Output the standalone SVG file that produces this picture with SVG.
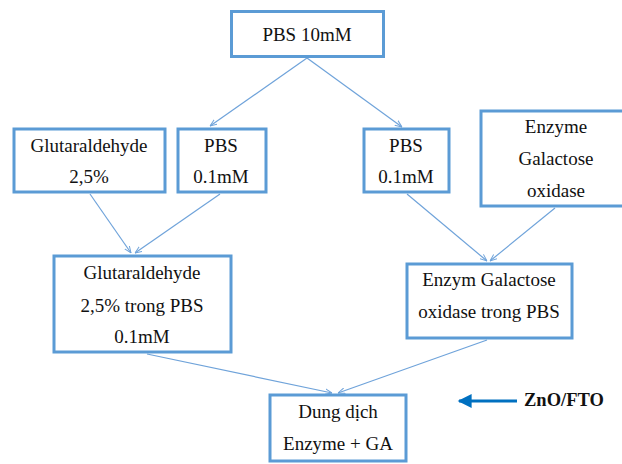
<svg xmlns="http://www.w3.org/2000/svg" width="622" height="464" viewBox="0 0 622 464">
<style>
.box{fill:#fff;stroke:#5b9bd5;stroke-width:3}
.t{font-family:"Liberation Serif","Times New Roman",serif;font-size:19px;fill:#111;text-anchor:middle}
.c{stroke:#6fa3da;stroke-width:1.2;fill:none;marker-end:url(#ah)}
</style>
<defs>
<marker id="ah" viewBox="0 0 10 10" refX="10" refY="5" markerWidth="7" markerHeight="7" markerUnits="userSpaceOnUse" orient="auto">
<path d="M0,1 L10,5 L0,9" fill="none" stroke="#6fa3da" stroke-width="1.4"/>
</marker>
<marker id="bh" viewBox="0 0 10 10" refX="9" refY="5" markerWidth="16" markerHeight="14" markerUnits="userSpaceOnUse" orient="auto">
<path d="M0,0 L10,5 L0,10 Z" fill="#0070c0"/>
</marker>
</defs>
<rect width="622" height="464" fill="#fff"/>
<g id="connectors">
<line class="c" x1="307" y1="58" x2="210" y2="126"/>
<line class="c" x1="307" y1="58" x2="402" y2="127"/>
<line class="c" x1="90" y1="194" x2="131" y2="253"/>
<line class="c" x1="220" y1="194" x2="135" y2="253"/>
<line class="c" x1="407" y1="194" x2="487" y2="261"/>
<line class="c" x1="555" y1="208" x2="490" y2="261"/>
<line class="c" x1="147" y1="354" x2="332" y2="393"/>
<line class="c" x1="487" y1="340" x2="338" y2="393"/>
</g>
<g id="n1"><rect class="box" x="231.5" y="11.5" width="152" height="45"/><text class="t" x="307" y="41">PBS 10mM</text></g>
<g id="n2"><rect class="box" x="14" y="129" width="151" height="63"/><text class="t" x="89" y="152">Glutaraldehyde</text><text class="t" x="89" y="183">2,5%</text></g>
<g id="n3"><rect class="box" x="178" y="129" width="88" height="63"/><text class="t" x="221" y="152">PBS</text><text class="t" x="221" y="183">0.1mM</text></g>
<g id="n4"><rect class="box" x="364" y="129" width="85" height="63"/><text class="t" x="406" y="152">PBS</text><text class="t" x="406" y="183">0.1mM</text></g>
<g id="n5"><rect class="box" x="481" y="111" width="150" height="95"/><text class="t" x="556" y="133">Enzyme</text><text class="t" x="556" y="165">Galactose</text><text class="t" x="556" y="197">oxidase</text></g>
<g id="n6"><rect class="box" x="54" y="256" width="177" height="96"/><text class="t" x="142" y="279">Glutaraldehyde</text><text class="t" x="142" y="312">2,5% trong PBS</text><text class="t" x="142" y="343">0.1mM</text></g>
<g id="n7"><rect class="box" x="407" y="264" width="165" height="74"/><text class="t" x="489" y="286">Enzym Galactose</text><text class="t" x="489" y="318">oxidase trong PBS</text></g>
<g id="n8"><rect class="box" x="270" y="395" width="136" height="66"/><text class="t" x="338" y="418">Dung dịch</text><text class="t" x="338" y="450">Enzyme + GA</text></g>
<g id="n9"><line x1="517" y1="401" x2="459" y2="401" stroke="#0070c0" stroke-width="3" marker-end="url(#bh)"/><text x="524" y="406" font-family="Liberation Serif,'Times New Roman',serif" font-size="18.5" font-weight="bold" fill="#111">ZnO/FTO</text></g>
</svg>
